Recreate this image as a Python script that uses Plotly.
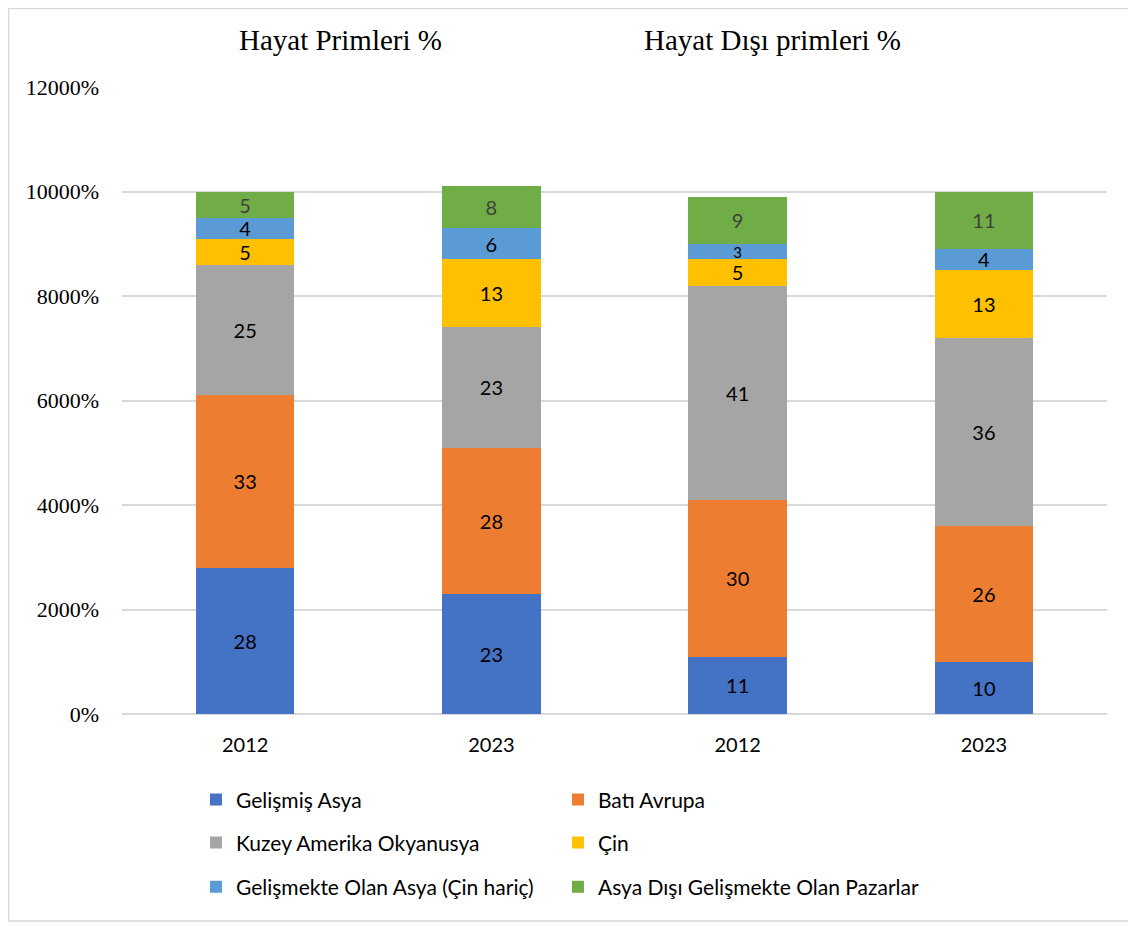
import plotly.graph_objects as go

categories = ["2012", "2023", "2012", "2023"]
series_names = [
    "Gelişmiş Asya",
    "Batı Avrupa",
    "Kuzey Amerika Okyanusya",
    "Çin",
    "Gelişmekte Olan Asya (Çin hariç)",
    "Asya Dışı Gelişmekte Olan Pazarlar",
]
gelismis_asya = [28, 23, 11, 10]
bati_avrupa = [33, 28, 30, 26]
kuzey_amerika = [25, 23, 41, 36]
cin = [5, 13, 5, 13]
gelismekte_asya = [4, 6, 3, 4]
asya_disi = [5, 8, 9, 11]
panel_titles = ["Hayat Primleri %", "Hayat Dışı primleri %"]

series_values = [gelismis_asya, bati_avrupa, kuzey_amerika, cin, gelismekte_asya, asya_disi]
colors = ["#4472C4", "#ED7D31", "#A5A5A5", "#FFC000", "#5B9BD5", "#70AD47"]
text_colors = ["#000000", "#000000", "#000000", "#000000", "#000000", "#404040"]

label_font = "Lato"
serif = "Liberation Serif"

x_pos = list(range(len(categories)))

# legend positions (paper coords) in two columns, three rows
leg_x = [0.0751, 0.4426]
leg_y = [-0.137, -0.2057, -0.2759]

fig = go.Figure()
for i, (name, vals) in enumerate(zip(series_names, series_values)):
    leg_id = "legend" if i == 0 else f"legend{i+1}"
    # very thin segments get a slightly smaller label so neighbours don't collide
    sizes = [15 if v <= 3 else 20 for v in vals]
    fig.add_trace(go.Bar(
        x=x_pos, y=vals, name=name,
        marker=dict(color=colors[i], line=dict(width=0)),
        text=[str(v) for v in vals],
        textposition="inside", insidetextanchor="middle", textangle=0,
        constraintext="none",
        textfont=dict(family=label_font, size=sizes, color=text_colors[i]),
        width=0.4,
        legend=leg_id,
        hoverinfo="skip",
    ))

layout_legends = {}
for i in range(len(series_names)):
    key = "legend" if i == 0 else f"legend{i+1}"
    col = i % 2
    row = i // 2
    layout_legends[key] = dict(
        x=leg_x[col], y=leg_y[row], xanchor="left", yanchor="middle",
        font=dict(family=label_font, size=21, color="#000000"),
        bgcolor="rgba(0,0,0,0)", itemwidth=30,
    )

fig.update_layout(
    barmode="stack",
    width=1128, height=918,
    margin=dict(l=114, r=29, t=79, b=212),
    paper_bgcolor="white", plot_bgcolor="white",
    showlegend=True,
    **layout_legends,
)

fig.update_yaxes(
    range=[0, 120], dtick=20, tick0=0, tickformat=".0%",
    showgrid=True, gridcolor="#d9d9d9", gridwidth=1.5,
    zeroline=True, zerolinecolor="#d9d9d9", zerolinewidth=1.5,
    showline=False, ticks="", ticklabelstandoff=22,
    tickfont=dict(family=serif, size=22, color="#000000"),
)
fig.update_xaxes(
    range=[-0.5, len(categories) - 0.5],
    tickvals=x_pos, ticktext=categories,
    showgrid=False, zeroline=False, showline=False, ticks="",
    ticklabelstandoff=17,
    tickfont=dict(family=label_font, size=20, color="#000000"),
)

title_x = [0.2223, 0.66]
for t, xx in zip(panel_titles, title_x):
    fig.add_annotation(
        text=t, x=xx, y=1.075, xref="paper", yref="paper",
        showarrow=False, xanchor="center", yanchor="middle",
        font=dict(family=serif, size=29, color="#000000"),
    )

# chart border
fig.add_shape(
    type="rect", xref="paper", yref="paper",
    x0=-0.1152, x1=1.0279, y0=-0.330, y1=1.1252,
    line=dict(color="#d9d9d9", width=1.5), fillcolor="rgba(0,0,0,0)", layer="below",
)

fig.write_html("out.html")
